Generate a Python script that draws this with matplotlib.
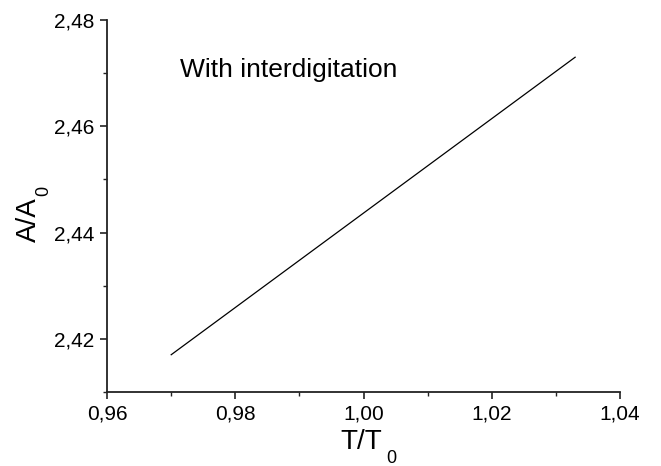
import matplotlib
matplotlib.use("Agg")
import matplotlib.pyplot as plt
from matplotlib.ticker import FixedLocator, MultipleLocator, FuncFormatter

plt.rcParams["font.family"] = ["Liberation Sans", "DejaVu Sans"]

# データ
t_ratio = [0.97, 1.033]
a_ratio = [2.417, 2.473]
x_ticks = [0.96, 0.98, 1.00, 1.02, 1.04]
y_ticks = [2.42, 2.44, 2.46, 2.48]

fig = plt.figure(figsize=(6.61, 4.66), dpi=100)
ax = fig.add_axes([0.162, 0.159, 0.776, 0.798])

ax.plot(t_ratio, a_ratio, color="black", linewidth=0.9)

ax.set_xlim(0.96, 1.04)
ax.set_ylim(2.41, 2.48)
ax.xaxis.set_major_locator(FixedLocator(x_ticks))
ax.yaxis.set_major_locator(FixedLocator(y_ticks))
ax.xaxis.set_minor_locator(MultipleLocator(0.01))
ax.yaxis.set_minor_locator(MultipleLocator(0.01))

# 小数点はカンマ
comma = FuncFormatter(lambda v, pos: "{:.2f}".format(v).replace(".", ","))
ax.xaxis.set_major_formatter(comma)
ax.yaxis.set_major_formatter(comma)

for s in ["top", "right"]:
    ax.spines[s].set_visible(False)
for s in ["left", "bottom"]:
    ax.spines[s].set_linewidth(1.3)
    ax.spines[s].set_color("#222222")

ax.tick_params(which="major", direction="out", length=5, width=1.2, labelsize=15, colors="#222222", pad=4)
ax.tick_params(which="minor", direction="out", length=3, width=1.0, colors="#222222")
ax.tick_params(labelcolor="black")

# 軸ラベル(添字は手で置く)
xl = ax.set_xlabel("T/T", fontsize=20)
yl = ax.set_ylabel("A/A", fontsize=20)
ax.xaxis.set_label_coords(0.495, -0.099)
ax.yaxis.set_label_coords(-0.127, 0.462)
ax.annotate("0", xy=(1, 0), xycoords=xl, xytext=(3, -2.5), textcoords="offset points",
            fontsize=13, ha="left", va="center")
ax.annotate("0", xy=(1, 1), xycoords=yl, xytext=(1.5, 5), textcoords="offset points",
            fontsize=13, rotation=90, ha="center", va="center")

ax.text(0.9713, 2.4692, "With interdigitation", fontsize=19, va="baseline", ha="left")

fig.savefig("out.png", dpi=100)
